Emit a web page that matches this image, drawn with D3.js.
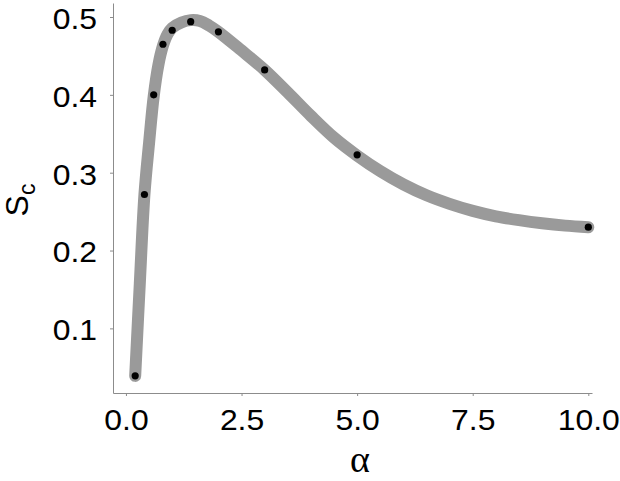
<!DOCTYPE html>
<meta charset="utf-8">
<html>
<style>
 body { margin:0; background:#fff; }
 svg text { font-family: "Liberation Sans", Arial, Helvetica, sans-serif; }
</style>
<script src="https://d3js.org/d3.v7.min.js"></script>
<body>
<svg width="620" height="481"></svg>
<script>
// smooth model curve
const curveAlpha = [0.2, 0.3, 0.4, 0.5, 0.6, 0.7, 0.8, 0.9, 1.0, 1.2, 1.4, 1.6, 1.8, 2.0, 2.5,
                    3.0, 3.5, 4.0, 4.5, 5.0, 5.5, 6.0, 6.5, 7.0, 7.5, 8.0, 8.5, 9.0, 9.5, 10.0];
const curveS = [0.039, 0.158, 0.272, 0.338, 0.398, 0.438, 0.463, 0.478, 0.486, 0.493, 0.496, 0.495, 0.489, 0.481, 0.457,
                0.432, 0.403, 0.373, 0.345, 0.322, 0.302, 0.285, 0.271, 0.260, 0.251, 0.244, 0.239, 0.235, 0.232, 0.230];

// simulation points
const pointAlpha = [0.2, 0.4, 0.6, 0.8, 1.0, 1.4, 2.0, 3.0, 5.0, 10.0];
const pointS = [0.039, 0.272, 0.400, 0.465, 0.483, 0.494, 0.481, 0.432, 0.323, 0.230];

const xTicks = [0, 2.5, 5, 7.5, 10];
const yTicks = [0.1, 0.2, 0.3, 0.4, 0.5];

const svg = d3.select('svg');

const x = d3.scaleLinear()
	.domain([-0.28, 10.08])
	.range([113, 592]);
const y = d3.scaleLinear()
	.domain([0.017, 0.518])
	.range([393, 3]);

const axisColor = "#8c8c8c";

const styleAxis = (g)=>{
	g.select(".domain").attr("stroke", axisColor);
	g.selectAll(".tick line").attr("stroke", axisColor);
	g.selectAll(".tick text")
		.attr("fill", "#000")
		.attr("font-size", 29);
}

svg.append('g')
	.attr('transform', 'translate(0,393)')
	.call(d3.axisBottom(x).tickValues(xTicks).tickFormat(d3.format(".1f")).tickSize(3).tickSizeOuter(0).tickPadding(13))
	.call(styleAxis)
	.call(g=>g.selectAll(".tick text").attr("transform", "scale(1.1,1)"));

svg.append('g')
	.attr('transform', 'translate(113,0)')
	.call(d3.axisLeft(y).tickValues(yTicks).tickFormat(d3.format(".1f")).tickSize(3).tickSizeOuter(0).tickPadding(11.5))
	.call(styleAxis)
	.call(g=>g.selectAll(".tick text").attr("dy", "0.39em").attr("transform", "scale(1.1,1)"));

const curveData = curveAlpha.map((a,i)=>[a, curveS[i]]);
const line = d3.line()
	.x(d=>x(d[0]))
	.y(d=>y(d[1]))
	.curve(d3.curveCatmullRom.alpha(0.5));

svg.append('path')
	.datum(curveData)
	.attr('d', line)
	.attr('fill', 'none')
	.attr('stroke', '#9a9a9a')
	.attr('stroke-width', 12)
	.attr('stroke-linecap', 'round')
	.attr('stroke-linejoin', 'round');

svg.append('g')
	.selectAll('circle')
	.data(pointAlpha)
	.join('circle')
	.attr('cx', d=>x(d))
	.attr('cy', (d,i)=>y(pointS[i]))
	.attr('r', 3.6)
	.attr('fill', '#000');

// axis titles
svg.append('text')
	.attr('x', 360)
	.attr('y', 472)
	.attr('text-anchor', 'middle')
	.attr('font-size', 38)
	.style('font-family', '"Liberation Serif", "DejaVu Serif", serif')
	.text('α');

const yl = svg.append('text')
	.attr('transform', 'translate(28,200) rotate(-90)')
	.attr('text-anchor', 'middle')
	.attr('font-size', 32);
yl.append('tspan').text('S');
yl.append('tspan').attr('font-size', 23).attr('dy', 7).text('c');
</script>
</body>
</html>
